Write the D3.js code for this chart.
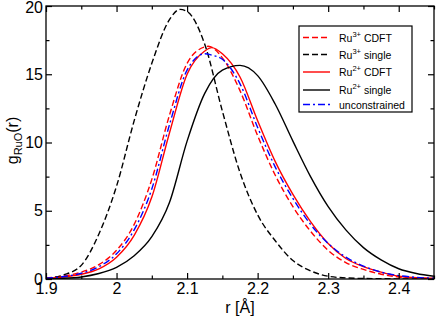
<!DOCTYPE html>
<html>
<head>
<meta charset="utf-8">
<script src="https://cdn.jsdelivr.net/npm/d3@7"></script>
<style>
  body { margin: 0; background: #fff; }
  text { font-family: "Liberation Sans", Arial, sans-serif; }
</style>
</head>
<body>
<div id="chart"></div>
<script>
// Data: r in Angstrom, g(r) values.
var r3Cdft = [1.9, 1.925, 1.95, 1.975, 2.0, 2.025, 2.05, 2.075, 2.1, 2.125, 2.13, 2.15, 2.175, 2.2, 2.225, 2.25, 2.275, 2.3, 2.325, 2.35, 2.375, 2.4, 2.425, 2.45];
var g3Cdft = [0.08, 0.22, 0.5, 1.05, 2.1, 4.0, 7.3, 12.0, 15.8, 17.0, 17.05, 16.2, 13.8, 10.5, 7.6, 5.3, 3.5, 2.1, 1.2, 0.7, 0.35, 0.15, 0.08, 0.03];

var r3Single = [1.9, 1.925, 1.95, 1.975, 2.0, 2.025, 2.05, 2.075, 2.09, 2.1, 2.125, 2.15, 2.175, 2.2, 2.225, 2.25, 2.275, 2.3, 2.325, 2.35, 2.4, 2.45];
var g3Single = [0.05, 0.3, 1.0, 3.3, 6.8, 11.6, 15.8, 19.0, 19.75, 19.6, 17.2, 12.3, 7.8, 4.7, 2.8, 1.35, 0.6, 0.2, 0.08, 0.04, 0.01, 0.0];

var r2Cdft = [1.9, 1.925, 1.95, 1.975, 2.0, 2.025, 2.05, 2.075, 2.1, 2.125, 2.135, 2.15, 2.175, 2.2, 2.225, 2.25, 2.275, 2.3, 2.325, 2.35, 2.375, 2.4, 2.425, 2.45];
var g2Cdft = [0.05, 0.15, 0.35, 0.75, 1.6, 3.2, 6.0, 10.7, 15.0, 16.7, 16.95, 16.5, 14.8, 11.6, 8.6, 6.2, 4.2, 2.6, 1.5, 0.9, 0.5, 0.2, 0.1, 0.05];

var r2Single = [1.9, 1.925, 1.95, 1.975, 2.0, 2.025, 2.05, 2.075, 2.1, 2.125, 2.15, 2.175, 2.2, 2.225, 2.25, 2.275, 2.3, 2.325, 2.35, 2.375, 2.4, 2.425, 2.45];
var g2Single = [0.02, 0.05, 0.15, 0.4, 0.85, 1.7, 3.1, 5.6, 10.1, 13.6, 15.3, 15.65, 14.9, 12.8, 10.1, 7.5, 5.3, 3.6, 2.3, 1.4, 0.75, 0.4, 0.2];

var rUncon = [1.9, 1.925, 1.95, 1.975, 2.0, 2.025, 2.05, 2.075, 2.1, 2.125, 2.135, 2.15, 2.175, 2.2, 2.225, 2.25, 2.275, 2.3, 2.325, 2.35, 2.375, 2.4, 2.425, 2.45];
var gUncon = [0.06, 0.18, 0.42, 0.9, 1.85, 3.6, 6.6, 11.3, 15.3, 16.5, 16.4, 16.1, 14.3, 11.1, 8.2, 5.9, 4.0, 2.6, 1.6, 0.95, 0.5, 0.25, 0.12, 0.05];

var xMajor = [1.9, 2.0, 2.1, 2.2, 2.3, 2.4];
var xMinor = [1.95, 2.05, 2.15, 2.25, 2.35, 2.45];
var yMajor = [0, 5, 10, 15, 20];
var yMinor = [2.5, 7.5, 12.5, 17.5];

// Series as drawn, in legend order.
var series = [
    {sup: "3+", name: " CDFT",   r: r3Cdft,   g: g3Cdft,   color: "#ff0000", dash: "6,3"},
    {sup: "3+", name: " single", r: r3Single, g: g3Single, color: "#000000", dash: "6,3"},
    {sup: "2+", name: " CDFT",   r: r2Cdft,   g: g2Cdft,   color: "#ff0000", dash: null},
    {sup: "2+", name: " single", r: r2Single, g: g2Single, color: "#000000", dash: null},
    {sup: null, name: "unconstrained", r: rUncon, g: gUncon, color: "#0000ff", dash: "7,3,2,3"}
];

var margin = {left: 46, right: 2, top: 6, bottom: 42};
var width = 436 - margin.left - margin.right,
    height = 321 - margin.top - margin.bottom;

var svg = d3.select("#chart")
    .append("svg")
        .attr("width", 436)
        .attr("height", 321)
    .append("g")
        .attr("transform", "translate(" + margin.left + ", " + margin.top + ")");

var x = d3.scaleLinear()
    .domain([1.9, 2.45])
    .range([0, width]);

var y = d3.scaleLinear()
    .domain([0, 20])
    .range([height, 0]);

svg.append("clipPath")
    .attr("id", "plot-clip")
    .append("rect")
        .attr("width", width)
        .attr("height", height);

// Curves.
var line = d3.line()
    .x(function(d){ return x(d[0]); })
    .y(function(d){ return y(d[1]); })
    .curve(d3.curveMonotoneX);

series.forEach(function(s){
    var pts = s.r.map(function(v, i){ return [v, s.g[i]]; });
    svg.append("path")
        .attr("clip-path", "url(#plot-clip)")
        .attr("d", line(pts))
        .attr("fill", "none")
        .attr("stroke", s.color)
        .attr("stroke-width", 1.4)
        .attr("stroke-dasharray", s.dash);
});

// Axes: ticks point inward on all four sides.
function styleAxis(g){
    g.select(".domain").remove();
    g.selectAll("line").attr("stroke", "#000").attr("stroke-width", 1.2);
    g.selectAll("text").attr("font-size", "16px").attr("fill", "#000")
        .attr("font-family", "'Liberation Sans', Arial, sans-serif");
}

svg.append("g")
    .attr("transform", "translate(0, " + height + ")")
    .call(d3.axisBottom(x).tickValues(xMajor).tickSize(-6).tickPadding(4).tickFormat(d3.format("")))
    .call(styleAxis);
svg.append("g")
    .attr("transform", "translate(0, " + height + ")")
    .call(d3.axisBottom(x).tickValues(xMinor).tickSize(-3.5).tickFormat(""))
    .call(styleAxis);
svg.append("g")
    .call(d3.axisTop(x).tickValues(xMajor).tickSize(-6).tickFormat(""))
    .call(styleAxis);
svg.append("g")
    .call(d3.axisTop(x).tickValues(xMinor).tickSize(-3.5).tickFormat(""))
    .call(styleAxis);

svg.append("g")
    .call(d3.axisLeft(y).tickValues(yMajor).tickSize(-6).tickPadding(3))
    .call(styleAxis)
    .selectAll("text")
        .attr("dy", function(d){ return d === 20 ? "0.42em" : "0.32em"; });
svg.append("g")
    .call(d3.axisLeft(y).tickValues(yMinor).tickSize(-3.5).tickFormat(""))
    .call(styleAxis);
svg.append("g")
    .attr("transform", "translate(" + width + ", 0)")
    .call(d3.axisRight(y).tickValues(yMajor).tickSize(-6).tickFormat(""))
    .call(styleAxis);
svg.append("g")
    .attr("transform", "translate(" + width + ", 0)")
    .call(d3.axisRight(y).tickValues(yMinor).tickSize(-3.5).tickFormat(""))
    .call(styleAxis);

// Frame.
svg.append("rect")
    .attr("width", width)
    .attr("height", height)
    .attr("fill", "none")
    .attr("stroke", "#000")
    .attr("stroke-width", 1.3);

// Axis titles.
svg.append("text")
    .attr("x", width / 2)
    .attr("y", height + 34)
    .attr("font-size", "16px")
    .attr("text-anchor", "middle")
    .text("r [Å]");

var yLabel = svg.append("text")
    .attr("transform", "translate(-28, " + (height / 2 - 2) + ") rotate(-90)")
    .attr("font-size", "16px")
    .attr("text-anchor", "middle");
yLabel.append("tspan").text("g");
yLabel.append("tspan").attr("font-size", "11px").attr("dy", 4).text("RuO");
yLabel.append("tspan").attr("dy", -4).text("(r)");

// Legend.
var legend = svg.append("g")
    .attr("transform", "translate(" + (299 - margin.left) + ", " + (26 - margin.top) + ")");

legend.append("rect")
    .attr("width", 113)
    .attr("height", 86)
    .attr("fill", "#fff")
    .attr("stroke", "#000")
    .attr("stroke-width", 1.2);

var rowY = [11.5, 28.5, 46, 64, 78.5];

series.forEach(function(s, i){
    var row = legend.append("g")
        .attr("transform", "translate(0, " + rowY[i] + ")");

    row.append("line")
        .attr("x1", 4)
        .attr("x2", 31)
        .attr("stroke", s.color)
        .attr("stroke-width", 1.4)
        .attr("stroke-dasharray", s.dash);

    var t = row.append("text")
        .attr("x", 40)
        .attr("y", 4)
        .attr("font-size", "10.5px");
    if (s.sup) {
        t.append("tspan").text("Ru");
        t.append("tspan").attr("font-size", "7.5px").attr("dy", -5).text(s.sup);
        t.append("tspan").attr("dy", 5).text(s.name);
    } else {
        t.text(s.name);
    }
});
</script>
</body>
</html>
